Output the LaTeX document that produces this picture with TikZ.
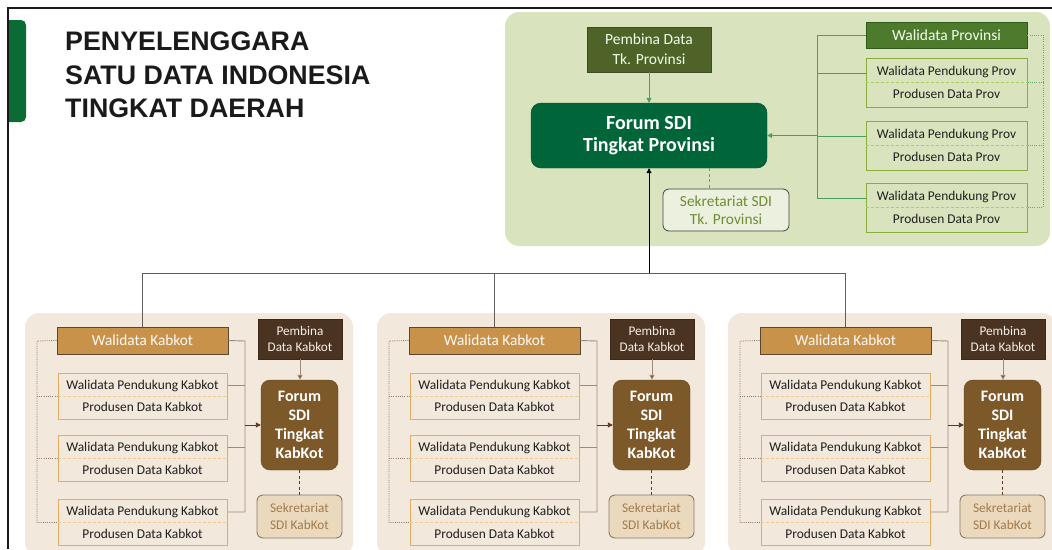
\documentclass[tikz,border=0pt]{standalone}
\usepackage{fontspec}
\setmainfont{Carlito}
\newfontfamily\titlefont{Liberation Sans}
\usetikzlibrary{arrows.meta}
\definecolor{frameblk}{HTML}{1A1A1A}
\definecolor{tabgreen}{HTML}{0B6B35}
\definecolor{provbg}{RGB}{217,228,190}
\definecolor{kabbg}{RGB}{242,232,219}
\definecolor{pemprovfill}{HTML}{4F6228}
\definecolor{forumprovfill}{HTML}{00663A}
\definecolor{walprovfill}{HTML}{4E7A2C}
\definecolor{walprovbord}{HTML}{2E5A1C}
\definecolor{provbord}{HTML}{8AAE3E}
\definecolor{provdiv}{HTML}{A9D15C}
\definecolor{provconn}{HTML}{4C9E64}
\definecolor{provdot}{HTML}{5DAE6A}
\definecolor{sekprovfill}{HTML}{EBF1DE}
\definecolor{sekprovtxt}{HTML}{6F8C36}
\definecolor{sekdash}{HTML}{3CB371}
\definecolor{txt}{HTML}{1F1F1F}
\definecolor{walkabfill}{HTML}{C8924B}
\definecolor{walkabbord}{HTML}{5B4631}
\definecolor{kabbord}{HTML}{E4AC60}
\definecolor{kabdiv}{HTML}{F2C98E}
\definecolor{kabconn}{HTML}{9D8B7A}
\definecolor{kabdot}{HTML}{8C7B6B}
\definecolor{kabarrow}{HTML}{5A3A1E}
\definecolor{pemkabfill}{HTML}{4B3322}
\definecolor{forumkabfill}{HTML}{7D5828}
\definecolor{sekkabfill}{HTML}{EBD9BE}
\definecolor{sekkabbord}{HTML}{8A7A68}
\definecolor{sekkabtxt}{HTML}{A27A4B}
\definecolor{topconn}{HTML}{5E5E5E}
\begin{document}
\begin{tikzpicture}[x=1pt,y=-1pt,
  titletext/.style={anchor=base west, inner sep=0pt, text=frameblk, font=\titlefont\bfseries\fontsize{26.8}{26.8}\selectfont},
  pemprov/.style={fill=pemprovfill, draw=pemprovfill!80!black, text=white!92!green, minimum width=124pt, minimum height=45pt, inner sep=0pt, align=center, font=\fontsize{15.5}{20}\selectfont},
  forumprov/.style={fill=forumprovfill, draw=forumprovfill!70!black, rounded corners=10pt, text=white, minimum width=236pt, minimum height=65pt, inner sep=0pt, align=center, font=\bfseries\fontsize{20}{22.5}\selectfont},
  sekprov/.style={fill=sekprovfill, draw=black!75, line width=0.8pt, rounded corners=6pt, text=sekprovtxt, minimum width=126pt, minimum height=42pt, inner sep=0pt, align=center, font=\fontsize{15.4}{18.5}\selectfont},
  walprov/.style={fill=walprovfill, draw=walprovbord, line width=0.8pt, text=white!95!green, minimum width=161pt, minimum height=26pt, inner sep=0pt, font=\fontsize{15.5}{18}\selectfont},
  pbox/.style={draw=provbord, line width=1pt, minimum width=161pt, minimum height=49pt, inner sep=0pt},
  smalltext/.style={text=txt, inner sep=0pt, font=\fontsize{13.4}{15}\selectfont},
  pdiv/.style={draw=provdiv, line width=1pt, dash pattern=on 3pt off 2pt},
  pconn/.style={draw=provconn, line width=0.9pt},
  pdot/.style={draw=provdot, line width=0.9pt, dash pattern=on 1pt off 1.2pt},
  sdash/.style={draw=sekdash, line width=1pt, dash pattern=on 3pt off 2.5pt},
  walkab/.style={fill=walkabfill, draw=walkabbord, line width=1pt, text=white!96!brown, minimum width=171pt, minimum height=27pt, inner sep=0pt, font=\fontsize{15.3}{18}\selectfont},
  kbox/.style={draw=kabbord, line width=1pt, minimum width=169pt, minimum height=46pt, inner sep=0pt},
  kdiv/.style={draw=kabdiv, line width=0.9pt, dash pattern=on 3pt off 2pt},
  kconn/.style={draw=kabconn, line width=0.9pt},
  kdot/.style={draw=kabdot, line width=0.8pt, dash pattern=on 1pt off 1.2pt},
  kdash/.style={draw=kabarrow, line width=1.1pt, dash pattern=on 3pt off 2.5pt},
  pemkab/.style={fill=pemkabfill, draw=pemkabfill!80!black, text=white!88!brown, minimum width=84pt, minimum height=40pt, inner sep=0pt, align=center, font=\fontsize{13.2}{16.5}\selectfont},
  forumkab/.style={fill=forumkabfill, draw=forumkabfill!80!black, rounded corners=9pt, text=white, minimum width=77pt, minimum height=90pt, inner sep=0pt, align=center, font=\bfseries\fontsize{16}{19}\selectfont},
  sekkab/.style={fill=sekkabfill, draw=sekkabbord, line width=0.9pt, rounded corners=6pt, text=sekkabtxt, minimum width=85pt, minimum height=43pt, inner sep=0pt, align=center, font=\fontsize{13.3}{16.5}\selectfont},
  tconn/.style={draw=topconn, line width=0.9pt},
  gtip/.style={-{Triangle[length=5pt,width=5pt]}}
]
\useasboundingbox (0,0) rectangle (1052,549);
\fill[white] (0,0) rectangle (1052,549);

% frame and tab
\begin{scope}
  \clip (8,0) rectangle (60,549);
  \fill[tabgreen, rounded corners=5pt] (0,20) rectangle (26,122);
\end{scope}
\draw[frameblk, line width=2pt] (8,549) -- (8,8) -- (1052,8);

% title
\node[titletext] (t1) at (65,50) {PENYELENGGARA};
\node[titletext] (t2) at (65,84) {SATU DATA INDONESIA};
\node[titletext] (t3) at (65,117.5) {TINGKAT DAERAH};

% province panel
\fill[provbg, rounded corners=14pt] (505,12) rectangle (1050,246);
\node[pemprov] (pp) at (649,49.5) {Pembina Data\\Tk. Provinsi};
\node[forumprov] (fp) at (649,135.5) {Forum SDI\\Tingkat Provinsi};
\node[sekprov] (sp) at (726,210) {Sekretariat SDI\\Tk. Provinsi};
\node[walprov] (wp) at (946.5,35) {Walidata Provinsi};
\foreach \j/\cy in {1/82.5,2/145.5,3/207.5}{
  \node[pbox] (pb\j) at (946.5,\cy) {};
  \draw[pdiv] (pb\j.west) -- (pb\j.east);
  \node[smalltext] (pb\j u) at (946.5,\cy-10.5) {Walidata Pendukung Prov};
  \node[smalltext] (pb\j l) at (946.5,\cy+11.5) {Produsen Data Prov};
}
\draw[pconn, gtip] (pp.south) -- (fp.north);
\draw[sdash] ([xshift=60pt]fp.south) -- ([xshift=60pt]fp.south |- sp.north);
\coordinate (brt) at (817,35);
\coordinate (brb) at (817,198.5);
\draw[pconn] (wp.west) -- (brt) -- (brb) -- ([yshift=9pt]pb3.west);
\draw[pconn] ([yshift=9pt]pb1.west) -- ([yshift=9pt]pb1.west -| brt);
\draw[pconn] ([yshift=9pt]pb2.west) -- ([yshift=9pt]pb2.west -| brt);
\draw[pconn, gtip] (brt |- fp.east) -- (fp.east);
\coordinate (drt) at (1043,35);
\draw[pdot] (wp.east) -- (drt) -- (drt |- pb3.east) -- (pb3.east);
\draw[pdot] (pb1.east) -- (pb1.east -| drt);
\draw[pdot] (pb2.east) -- (pb2.east -| drt);

% kabkot panels
\foreach \i/\dx in {1/0,2/352,3/703}{
  \begin{scope}[xshift=\dx pt]
    \fill[kabbg, rounded corners=14pt] (25,313) rectangle (353,556);
    \node[walkab] (wk\i) at (142.5,340.5) {Walidata Kabkot};
    \foreach \j/\cy in {1/396,2/458.5,3/522.5}{
      \node[kbox] (kb\i\j) at (142.5,\cy) {};
      \draw[kdiv] (kb\i\j.west) -- (kb\i\j.east);
      \node[smalltext] (kb\i\j u) at (142.5,\cy-10.5) {Walidata Pendukung Kabkot};
      \node[smalltext] (kb\i\j l) at (142.5,\cy+11) {Produsen Data Kabkot};
    }
    \node[pemkab] (pk\i) at (300,339) {Pembina\\Data Kabkot};
    \node[forumkab] (fk\i) at (299.5,425) {Forum\\SDI\\Tingkat\\KabKot};
    \node[sekkab] (sk\i) at (299.5,516.5) {Sekretariat\\SDI KabKot};
    \coordinate (kr\i) at (245,341);
    \coordinate (krb\i) at (245,512);
    \coordinate (kl\i) at (37,341);
  \end{scope}
  \draw[kconn] (wk\i.east) -- (kr\i) -- (krb\i) -- ([yshift=10.5pt]kb\i3.east);
  \draw[kconn] ([yshift=11pt]kb\i1.east) -- ([yshift=11pt]kb\i1.east -| kr\i);
  \draw[kconn] ([yshift=11pt]kb\i2.east) -- ([yshift=11pt]kb\i2.east -| kr\i);
  \draw[kconn, -{Triangle[length=5pt,width=5pt]}, kabarrow] (kr\i |- fk\i.west) -- (fk\i.west);
  \draw[kdot] (wk\i.west) -- (kl\i) -- (kl\i |- kb\i3.west) -- (kb\i3.west);
  \draw[kdot] (kb\i1.west -| kl\i) -- (kb\i1.west);
  \draw[kdot] (kb\i2.west -| kl\i) -- (kb\i2.west);
  \draw[kconn, -{Triangle[length=5pt,width=5pt,fill=kabarrow]}] (pk\i.south) -- (pk\i.south |- fk\i.north);
  \draw[kdash] (fk\i.south) -- (fk\i.south |- sk\i.north);
}

% top connectors
\coordinate (hub) at (649,273);
\draw[tconn] (wk1.north) |- (hub);
\draw[tconn] (wk3.north) |- (hub);
\draw[tconn] (wk2.north) -- (wk2.north |- hub);
\draw[tconn, -{Triangle[length=5pt,width=5pt]}, black] (hub) -- (fp.south);
\end{tikzpicture}
\end{document}
